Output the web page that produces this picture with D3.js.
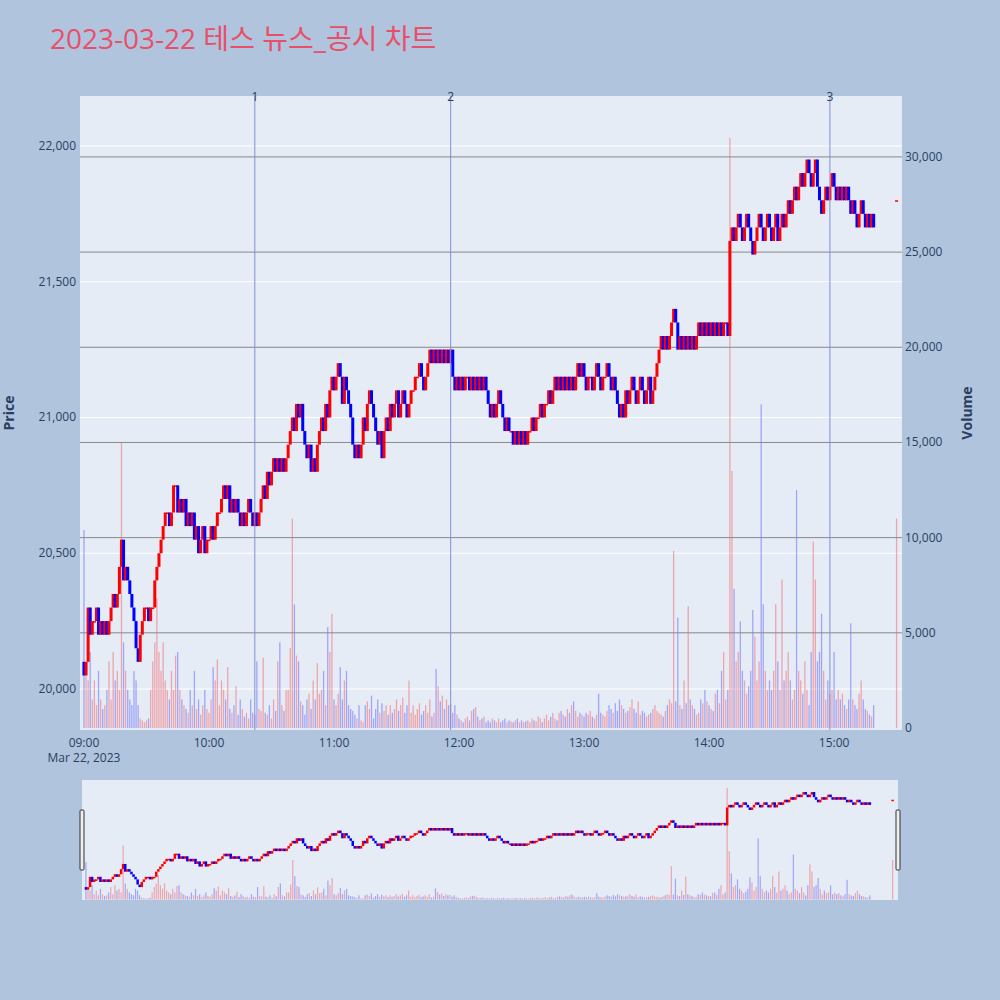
<!DOCTYPE html>
<html><head><meta charset="utf-8">
<script src="https://cdn.jsdelivr.net/npm/d3@7"></script>
<style>body{margin:0;background:#b0c4de;font-family:"Open Sans","Noto Sans CJK KR",sans-serif}</style>
</head><body><svg id="chart" width="1000" height="1000"></svg>
<script>
// 1-minute closes from 09:00
var closes = [
 20050,20100,20300,20200,20250,20250,20300,20200,20250,20200,
 20250,20200,20250,20300,20350,20300,20350,20450,20550,20400,
 20450,20400,20350,20300,20250,20150,20100,20200,20250,20300,
 20300,20250,20300,20300,20400,20450,20500,20550,20600,20650,
 20650,20600,20650,20750,20750,20650,20700,20650,20700,20600,
 20650,20600,20650,20550,20600,20500,20550,20600,20500,20550,
 20550,20600,20550,20600,20650,20650,20700,20750,20700,20750,
 20650,20700,20650,20700,20650,20600,20650,20600,20650,20700,
 20650,20600,20650,20600,20650,20700,20750,20700,20800,20750,
 20800,20850,20800,20850,20800,20850,20800,20850,20900,20950,
 21000,20950,21050,21000,21050,20950,20900,20850,20900,20800,
 20850,20800,20900,20950,21000,20950,21050,21000,21100,21150,
 21100,21150,21200,21150,21050,21150,21100,21050,21000,20900,
 20850,20900,20850,20900,21000,20950,21050,21100,21050,21000,
 20950,20900,20950,20850,20950,21000,20950,21050,21000,21050,
 21100,21000,21050,21100,21050,21000,21050,21100,21100,21150,
 21150,21200,21150,21100,21150,21200,21250,21200,21250,21200,
 21250,21200,21250,21200,21250,21200,21250,21150,21100,21150,
 21100,21150,21100,21150,21150,21100,21150,21100,21150,21100,
 21150,21100,21150,21100,21050,21000,21050,21000,21050,21100,
 21050,21000,20950,21000,20950,20950,20900,20950,20900,20950,
 20900,20950,20900,20950,20950,21000,20950,21000,21000,21050,
 21000,21050,21050,21100,21050,21100,21150,21100,21150,21100,
 21150,21100,21150,21100,21150,21100,21150,21200,21150,21200,
 21150,21100,21150,21150,21100,21150,21200,21150,21100,21150,
 21150,21200,21150,21100,21150,21100,21050,21000,21050,21000,
 21100,21050,21100,21150,21100,21050,21100,21150,21100,21050,
 21100,21150,21050,21100,21150,21200,21250,21300,21250,21300,
 21250,21300,21350,21400,21350,21250,21300,21250,21300,21250,
 21300,21250,21300,21250,21300,21350,21300,21350,21300,21350,
 21300,21350,21300,21350,21300,21350,21300,21350,21350,21300,
 21650,21700,21650,21700,21750,21700,21650,21700,21750,21700,
 21650,21600,21650,21700,21750,21700,21650,21700,21750,21700,
 21650,21700,21750,21650,21700,21750,21700,21750,21800,21750,
 21800,21850,21800,21850,21900,21850,21900,21950,21900,21850,
 21900,21950,21850,21800,21750,21800,21850,21800,21850,21900,
 21850,21800,21850,21800,21850,21800,21850,21800,21750,21800,
 21750,21700,21750,21800,21750,21700,21750,21700,21750,21700
];
var volumes = [
 10400,3000,2500,4000,1500,2500,1200,3000,1500,1000,
 1200,2000,3500,1500,4000,2500,3000,2000,15000,4500,
 3000,2000,1500,1200,3000,2500,1200,500,400,300,
 400,500,2000,3500,4500,6800,4000,3000,4500,2500,
 2000,1500,3000,2000,3800,4000,2000,1500,1200,1000,
 800,2000,1200,3000,1000,1500,700,1200,2000,1000,
 800,1500,3200,2500,3600,1200,2500,2000,1500,3200,
 1000,800,1200,2200,700,1500,1000,600,800,500,
 1500,800,700,3500,1000,900,3700,800,700,1200,
 500,1500,900,3500,4500,1200,900,2000,2000,4200,
 11000,6500,3800,3500,1400,1200,700,1500,1800,1000,
 2500,1500,3400,1800,2000,3000,1200,5300,4000,6000,
 1500,1200,1800,3200,1500,2500,3000,1200,1000,900,
 700,500,1200,400,300,1200,1400,1000,1700,500,
 1000,1500,800,1300,900,1200,700,1200,800,1000,
 1500,900,1200,1600,800,1200,2500,800,1200,700,
 1000,1300,700,900,1200,800,1500,600,800,3100,
 2200,1400,1700,1000,1500,1200,1300,800,1200,700,
 500,400,300,500,600,400,900,1000,1100,600,
 400,500,600,300,400,300,500,400,300,500,
 300,400,500,300,400,350,300,400,500,300,
 400,300,350,400,300,500,400,350,600,500,
 300,500,700,400,600,800,500,400,800,900,
 700,600,1000,800,1200,1400,900,600,800,700,
 600,800,700,900,600,500,700,1800,800,700,
 600,900,1200,1000,800,1300,900,1500,1200,1000,
 800,900,1100,1500,1000,800,1400,700,900,800,
 600,700,800,1000,1200,900,800,700,600,900,
 1200,1500,1300,9300,1400,5800,1200,1000,2500,1300,
 6400,1500,1200,1000,700,800,1500,1300,2000,1400,
 1200,1000,900,1800,2000,1300,3000,4000,1500,2000,
 31000,13500,7300,3500,4000,5600,3000,2500,1800,2200,
 3000,6200,4800,2500,3500,17000,6500,3000,2000,2500,
 2000,3000,6500,3500,2000,7800,2500,3000,4000,2500,
 1500,2000,12500,3000,2500,1800,3500,2000,1200,4000,
 9800,7800,3500,4000,6000,3000,1500,2500,1800,2000,
 4000,1500,2000,1500,1800,1200,1000,1500,5500,1500,
 1200,1000,1800,2500,1500,1000,900,700,600,1200
];
var openPrice = 20100;
var closingAuction = {minute: 390, price: 21800, volume: 11000};
var newsMarks = [{label: "1", minute: 82}, {label: "2", minute: 176}, {label: "3", minute: 358}];
var priceTicks = [20000, 20500, 21000, 21500, 22000];
var volumeTicks = [0, 5000, 10000, 15000, 20000, 25000, 30000];
var timeTicks = ["09:00", "10:00", "11:00", "12:00", "13:00", "14:00", "15:00"];

var day = new Date(2023, 2, 22, 9, 0);
function at(m){ return new Date(day.getTime() + m*60000); }

var bars = closes.map(function(c, i){
  var o = i == 0 ? openPrice : closes[i-1];
  return {t: at(i), o: o, c: c, v: volumes[i]};
});
bars.push({t: at(closingAuction.minute), o: closingAuction.price, c: closingAuction.price, v: closingAuction.volume});

var svg = d3.select("#chart");
var L = 80, R = 902, T = 96, B = 730;
var x = d3.scaleTime().domain([at(-1.9), at(392.6)]).range([L, R]);
var y = d3.scaleLinear().domain([19849, 22184]).range([B, T]);
var yv = d3.scaleLinear().domain([-105, 33200]).range([B, T]);

svg.append("text").attr("x", 50).attr("y", 49).attr("font-size", 28).attr("fill", "#e8506a").text("2023-03-22 테스 뉴스_공시 차트");

svg.append("rect").attr("x", L).attr("y", T).attr("width", R-L).attr("height", B-T).attr("fill", "#e5ecf6");

svg.append("g").selectAll("line").data(priceTicks).join("line")
  .attr("x1", L).attr("x2", R).attr("y1", d => y(d)).attr("y2", d => y(d)).attr("stroke", "#fff").attr("stroke-width", 1);

function drawVolume(g, xs, ys, w){
  g.selectAll("rect").data(bars).join("rect")
    .attr("x", d => xs(d.t) - w/2).attr("width", w)
    .attr("y", d => ys(d.v)).attr("height", d => ys(0) - ys(d.v))
    .attr("fill", d => d.c >= d.o ? "rgba(255,0,0,0.3)" : "rgba(0,0,255,0.3)");
}
function drawCandles(g, xs, ys, w){
  g.selectAll("rect").data(bars).join("rect")
    .attr("x", d => xs(d.t) - w/2).attr("width", w)
    .attr("y", d => ys(Math.max(d.o, d.c)))
    .attr("height", d => Math.max(1.5, Math.abs(ys(d.o) - ys(d.c))))
    .attr("fill", d => d.c >= d.o ? "#ff0000" : "#0000ff");
}
drawVolume(svg.append("g"), x, yv, 1.3);

svg.append("g").selectAll("line").data(volumeTicks.slice(1)).join("line")
  .attr("x1", L).attr("x2", R).attr("y1", d => yv(d)).attr("y2", d => yv(d)).attr("stroke", "#888").attr("stroke-width", 1);

drawCandles(svg.append("g"), x, y, 3);

var nm = svg.append("g").selectAll("g").data(newsMarks).join("g");
nm.append("line").attr("x1", d => x(at(d.minute))).attr("x2", d => x(at(d.minute)))
  .attr("y1", T).attr("y2", B).attr("stroke", "#7f8fd8").attr("stroke-width", 1);
nm.append("text").attr("x", d => x(at(d.minute))).attr("y", 101).attr("text-anchor", "middle")
  .attr("font-size", 12).attr("fill", "#2a3f5f").text(d => d.label);

var tc = "#2a3f5f";
svg.append("g").selectAll("text").data(priceTicks).join("text")
  .attr("x", 76).attr("y", d => y(d) + 4).attr("text-anchor", "end").attr("font-size", 12).attr("fill", tc)
  .text(d => d3.format(",")(d));
svg.append("g").selectAll("text").data(volumeTicks).join("text")
  .attr("x", 905).attr("y", d => yv(d) + 4).attr("font-size", 12).attr("fill", tc)
  .text(d => d3.format(",")(d));
svg.append("g").selectAll("text").data(timeTicks).join("text")
  .attr("x", (d, i) => x(at(i*60))).attr("y", 747).attr("text-anchor", "middle").attr("font-size", 12).attr("fill", tc)
  .text(d => d);
svg.append("text").attr("x", 84).attr("y", 762).attr("text-anchor", "middle").attr("font-size", 12).attr("fill", tc).text("Mar 22, 2023");
svg.append("text").attr("transform", "translate(14,413) rotate(-90)").attr("text-anchor", "middle")
  .attr("font-size", 14).attr("font-weight", "bold").attr("fill", tc).text("Price");
svg.append("text").attr("transform", "translate(972,413) rotate(-90)").attr("text-anchor", "middle")
  .attr("font-size", 14).attr("font-weight", "bold").attr("fill", tc).text("Volume");

// range slider
var sT = 780, sB = 900, sL = 82, sR = 898;
var xs = d3.scaleTime().domain(x.domain()).range([sL, sR]);
var ys = d3.scaleLinear().domain(y.domain()).range([sB, sT]);
var yvs = d3.scaleLinear().domain(yv.domain()).range([sB, sT]);
svg.append("rect").attr("x", sL).attr("y", sT).attr("width", sR-sL).attr("height", sB-sT).attr("fill", "#e5ecf6");
drawVolume(svg.append("g"), xs, yvs, 1.2);
drawCandles(svg.append("g"), xs, ys, 2.5);
[sL, sR].forEach(function(hx){
  svg.append("rect").attr("x", hx-2).attr("y", 810).attr("width", 4).attr("height", 60)
    .attr("fill", "#eee").attr("stroke", "#333").attr("stroke-width", 1).attr("rx", 1);
});
</script></body></html>
